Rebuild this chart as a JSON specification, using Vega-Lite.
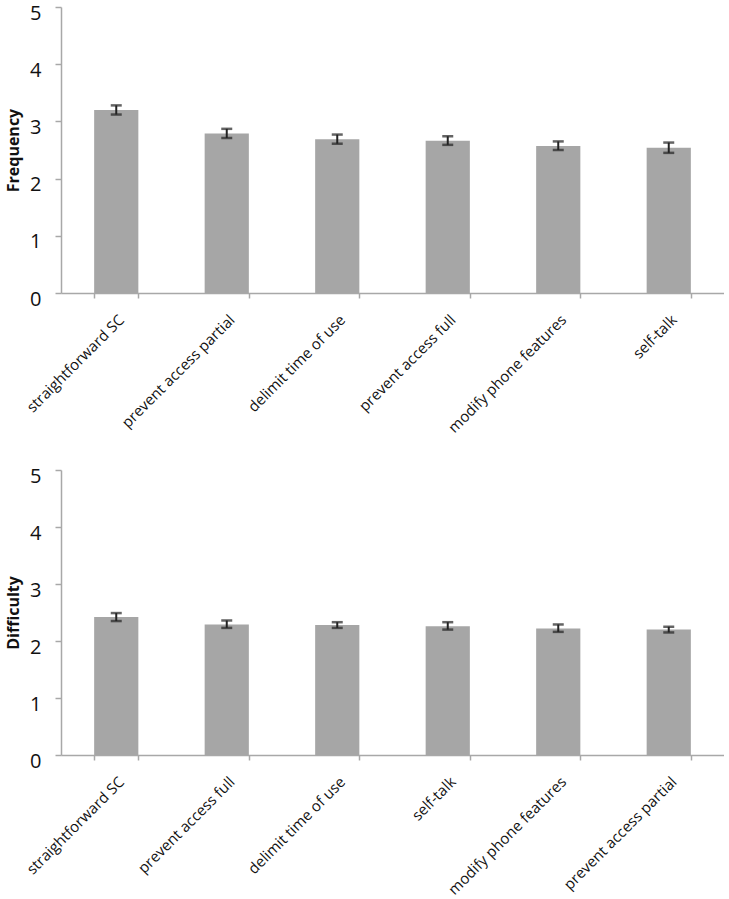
{
  "$schema": "https://vega.github.io/schema/vega-lite/v6.json",
  "padding": {"left": 5, "top": 3, "right": 0, "bottom": 0},
  "background": "white",
  "config": {
    "view": {"stroke": null},
    "font": "Open Sans",
    "axis": {"grid": false, "domainColor": "#a8a8a8", "tickColor": "#a8a8a8", "domainWidth": 1.5, "tickWidth": 1.5, "labelColor": "#111", "titleColor": "#111"}
  },
  "datasets": {
    "freq": [
      {"strategy": "straightforward SC", "mean": 3.2, "lo": 3.12, "hi": 3.28},
      {"strategy": "prevent access partial", "mean": 2.79, "lo": 2.71, "hi": 2.87},
      {"strategy": "delimit time of use", "mean": 2.69, "lo": 2.61, "hi": 2.77},
      {"strategy": "prevent access full", "mean": 2.66, "lo": 2.59, "hi": 2.74},
      {"strategy": "modify phone features", "mean": 2.57, "lo": 2.5, "hi": 2.65},
      {"strategy": "self-talk", "mean": 2.54, "lo": 2.45, "hi": 2.63}
    ],
    "diff": [
      {"strategy": "straightforward SC", "mean": 2.42, "lo": 2.35, "hi": 2.49},
      {"strategy": "prevent access full", "mean": 2.29, "lo": 2.23, "hi": 2.36},
      {"strategy": "delimit time of use", "mean": 2.28, "lo": 2.23, "hi": 2.33},
      {"strategy": "self-talk", "mean": 2.26, "lo": 2.2, "hi": 2.33},
      {"strategy": "modify phone features", "mean": 2.22, "lo": 2.16, "hi": 2.29},
      {"strategy": "prevent access partial", "mean": 2.2, "lo": 2.15, "hi": 2.25}
    ]
  },
  "spacing": 30,
  "vconcat": [
    {
      "data": {"name": "freq"},
      "width": 663,
      "height": 286,
      "encoding": {
        "x": {"field": "strategy", "type": "nominal", "sort": null,
          "scale": {"paddingInner": 0.6, "paddingOuter": 0.3},
          "axis": {"title": null, "labelAngle": -45, "labelFontSize": 15, "tickBand": "extent", "tickSize": 5, "labelPadding": 14}}
      },
      "layer": [
        {"mark": {"type": "bar", "color": "#a6a6a6"},
          "encoding": {"y": {"field": "mean", "type": "quantitative", "scale": {"domain": [0, 5]},
            "axis": {"title": "Frequency", "values": [0, 1, 2, 3, 4, 5], "format": "d", "labelFontSize": 20, "labelOffset": 6, "titleFontSize": 16, "titleFontWeight": "bold", "tickSize": 6, "labelPadding": 14, "titlePadding": 8}}}},
        {"mark": {"type": "rule", "strokeWidth": 2, "color": "#222"},
          "encoding": {"y": {"field": "lo", "type": "quantitative"}, "y2": {"field": "hi"}}},
        {"mark": {"type": "tick", "thickness": 2.5, "size": 11, "color": "#222"},
          "encoding": {"y": {"field": "lo", "type": "quantitative"}}},
        {"mark": {"type": "tick", "thickness": 2.5, "size": 11, "color": "#222"},
          "encoding": {"y": {"field": "hi", "type": "quantitative"}}}
      ]
    },
    {
      "data": {"name": "diff"},
      "width": 663,
      "height": 285,
      "encoding": {
        "x": {"field": "strategy", "type": "nominal", "sort": null,
          "scale": {"paddingInner": 0.6, "paddingOuter": 0.3},
          "axis": {"title": null, "labelAngle": -45, "labelFontSize": 15, "tickBand": "extent", "tickSize": 5, "labelPadding": 14}}
      },
      "layer": [
        {"mark": {"type": "bar", "color": "#a6a6a6"},
          "encoding": {"y": {"field": "mean", "type": "quantitative", "scale": {"domain": [0, 5]},
            "axis": {"title": "Difficulty", "values": [0, 1, 2, 3, 4, 5], "format": "d", "labelFontSize": 20, "labelOffset": 6, "titleFontSize": 16, "titleFontWeight": "bold", "tickSize": 6, "labelPadding": 14, "titlePadding": 8}}}},
        {"mark": {"type": "rule", "strokeWidth": 2, "color": "#222"},
          "encoding": {"y": {"field": "lo", "type": "quantitative"}, "y2": {"field": "hi"}}},
        {"mark": {"type": "tick", "thickness": 2.5, "size": 11, "color": "#222"},
          "encoding": {"y": {"field": "lo", "type": "quantitative"}}},
        {"mark": {"type": "tick", "thickness": 2.5, "size": 11, "color": "#222"},
          "encoding": {"y": {"field": "hi", "type": "quantitative"}}}
      ]
    }
  ]
}
